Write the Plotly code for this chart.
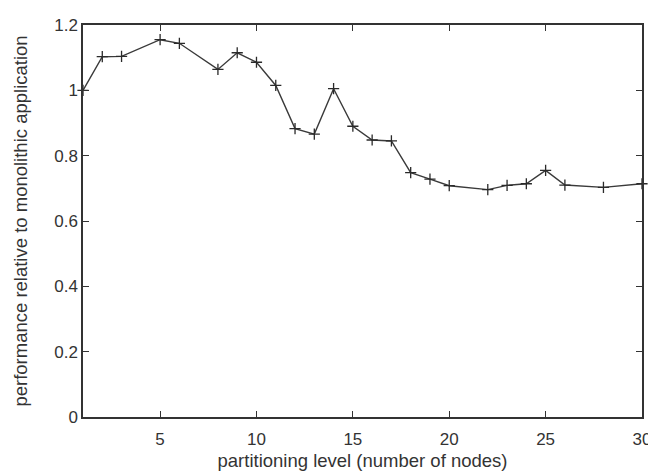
import plotly.graph_objects as go

nodes = [1, 2, 3, 5, 6, 8, 9, 10, 11, 12, 13, 14, 15, 16, 17, 18, 19, 20, 22, 23, 24, 25, 26, 28, 30]
performance = [1.0, 1.103, 1.104, 1.155, 1.144, 1.064, 1.115, 1.086, 1.015, 0.883, 0.866, 1.005,
               0.890, 0.848, 0.845, 0.748, 0.728, 0.708, 0.696, 0.709, 0.714, 0.755, 0.710, 0.703, 0.714]
x_ticks = [5, 10, 15, 20, 25, 30]
y_ticks = [0, 0.2, 0.4, 0.6, 0.8, 1, 1.2]
y_tick_text = ["0", "0.2", "0.4", "0.6", "0.8", "1", "1.2"]

FONT = "Liberation Sans, Arial, sans-serif"

fig = go.Figure()
fig.add_trace(go.Scatter(
    x=nodes, y=performance, mode="lines+markers",
    line=dict(color="#3a3a3a", width=1.4),
    marker=dict(symbol="cross-thin", size=8, line=dict(color="#2a2a2a", width=1.3)),
    cliponaxis=False,
))

axis_common = dict(
    showgrid=False, zeroline=False, showline=True, linecolor="#333333", linewidth=1.5,
    mirror="ticks", ticks="inside", ticklen=6, tickcolor="#333333", tickwidth=1.3,
    tickfont=dict(family=FONT, size=17, color="#333333"), automargin=False,
)

fig.update_layout(
    width=648, height=474,
    margin=dict(l=83, r=6, t=25, b=57),
    paper_bgcolor="white", plot_bgcolor="white",
    showlegend=False,
    xaxis=dict(range=[1, 30], tickvals=x_ticks, ticklabeloverflow="allow", ticklabelstandoff=6,
               **axis_common,
               title=dict(text="partitioning level (number of nodes)", standoff=6,
                          font=dict(family=FONT, size=18.5, color="#333333"))),
    yaxis=dict(range=[0, 1.2], tickvals=y_ticks, ticktext=y_tick_text, **axis_common,
               title=dict(text="performance relative to monolithic application", standoff=22,
                          font=dict(family=FONT, size=18.5, color="#333333"))),
)

fig.write_html("out.html", config={"displayModeBar": False},
               post_script="document.body.style.margin='0';document.body.style.padding='0';")
